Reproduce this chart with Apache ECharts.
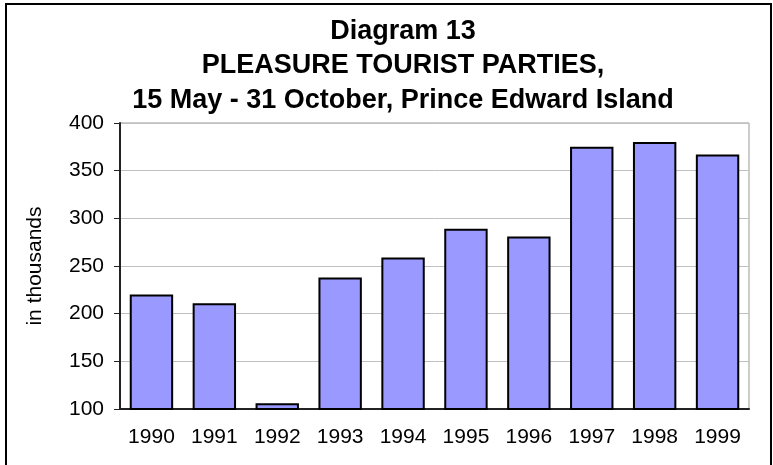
<!DOCTYPE html>
<html>
<head>
<meta charset="utf-8">
<script src="https://cdn.jsdelivr.net/npm/echarts@6/dist/echarts.min.js"></script>
<style>
  html, body { margin: 0; padding: 0; background: #fff; }
  #chart { width: 773px; height: 465px; }
</style>
</head>
<body>
<div id="chart"></div>
<script>
// data (thousands of parties)
var years = ['1990', '1991', '1992', '1993', '1994', '1995', '1996', '1997', '1998', '1999'];
var parties = [220, 211, 106, 238, 259, 289, 281, 375, 380, 367];
var titleLines = ['Diagram 13', 'PLEASURE TOURIST PARTIES,', '15 May - 31 October, Prince Edward Island'];

var myChart = echarts.init(document.getElementById('chart'));
myChart.setOption({
    animation: false,
    backgroundColor: '#fff',
    textStyle: { fontFamily: 'Liberation Sans, Arial, sans-serif' },
    title: {
        text: titleLines.join('\n'),
        left: 398,
        textAlign: 'center',
        top: 9,
        textStyle: {
            fontFamily: 'Liberation Sans, Arial, sans-serif',
            fontSize: 27,
            fontWeight: 'bold',
            lineHeight: 34.5,
            color: '#000'
        }
    },
    graphic: [{
        type: 'rect',
        shape: { x: 6, y: 4, width: 765, height: 470 },
        style: { fill: 'none', stroke: '#000', lineWidth: 2 },
        silent: true
    }],
    grid: {
        left: 120, right: 24, top: 123, bottom: 56,
        show: true, borderColor: '#999', borderWidth: 1
    },
    xAxis: {
        type: 'category',
        data: years,
        axisLine: { lineStyle: { color: '#222', width: 2 } },
        axisTick: { length: 6, lineStyle: { color: '#222' } },
        axisLabel: { color: '#000', fontSize: 21, margin: 18 }
    },
    yAxis: {
        type: 'value',
        min: 100, max: 400, interval: 50,
        name: 'in thousands',
        nameLocation: 'middle',
        nameGap: 74,
        nameTextStyle: { color: '#000', fontSize: 21 },
        axisLine: { show: true, lineStyle: { color: '#222', width: 2 } },
        axisTick: { show: true, length: 6, lineStyle: { color: '#222' } },
        axisLabel: { color: '#000', fontSize: 21, margin: 16 },
        splitLine: { lineStyle: { color: '#c0c0c0', width: 1 } }
    },
    series: [{
        name: 'parties',
        type: 'bar',
        data: parties,
        barCategoryGap: '31%',
        itemStyle: { color: '#9999ff', borderColor: '#000', borderWidth: 2 }
    }]
});
</script>
</body>
</html>
